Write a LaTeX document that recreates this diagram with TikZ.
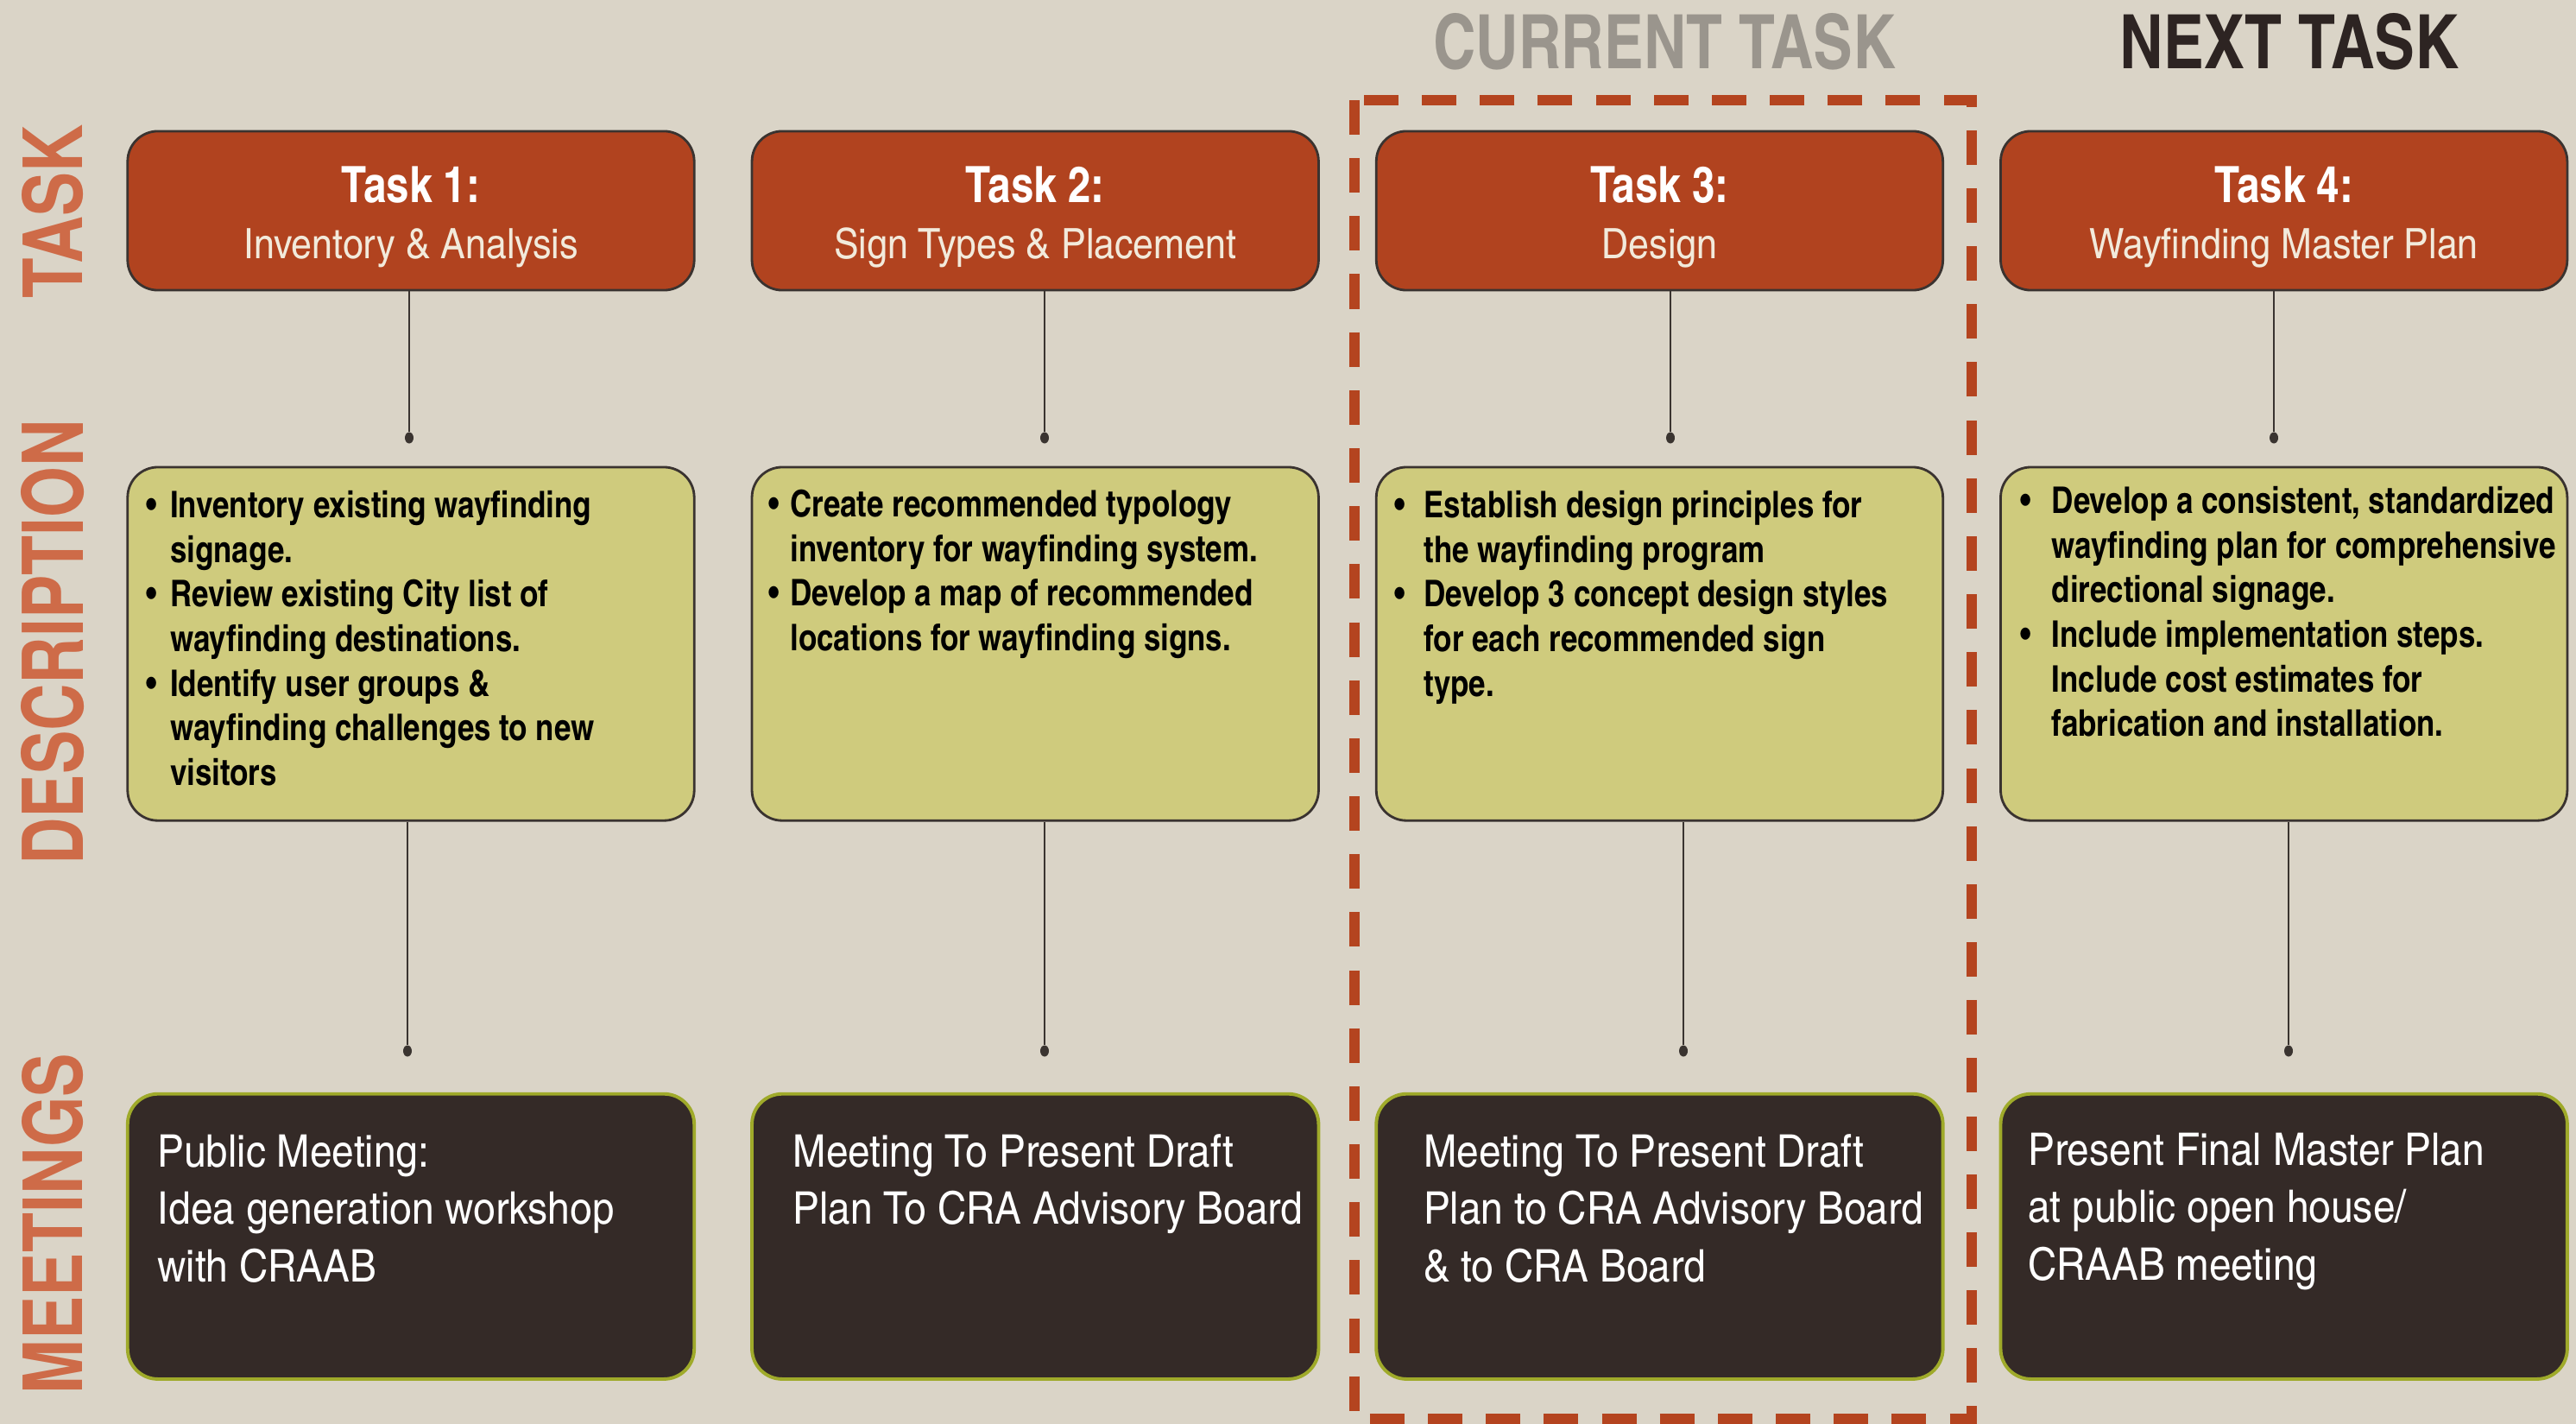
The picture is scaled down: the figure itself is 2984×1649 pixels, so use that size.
\documentclass[tikz,border=0pt]{standalone}
\usepackage{fontspec}
\usepackage{graphicx}
\setmainfont{texgyreheroscn}[Extension=.otf, UprightFont=*-regular, BoldFont=*-bold, ItalicFont=*-italic, BoldItalicFont=*-bolditalic]
\newfontfamily\sidefont{texgyreheros}[Extension=.otf, UprightFont=*-regular, BoldFont=*-bold]
\newfontfamily\widecn{texgyreheroscn}[Extension=.otf, UprightFont=*-regular, FakeStretch=1.08]
\usetikzlibrary{positioning, calc, shapes.geometric}

\definecolor{bgbeige}{HTML}{DAD4C7}
\definecolor{taskred}{HTML}{B1431F}
\definecolor{taskcream}{HTML}{F2EADB}
\definecolor{descolive}{HTML}{CFCB7D}
\definecolor{meetbrown}{HTML}{342A27}
\definecolor{meetline}{HTML}{9FAA2A}
\definecolor{boxline}{HTML}{3A3330}
\definecolor{wiregray}{HTML}{3A3430}
\definecolor{sideorange}{HTML}{CE6B48}
\definecolor{curgray}{HTML}{9A958D}
\definecolor{nextdark}{HTML}{2D2422}
\definecolor{framered}{HTML}{B4441F}

\newcommand{\bul}[1][0.28cm]{\makebox[#1][l]{\textbullet}}
\newcommand{\nob}[1][0.28cm]{\hspace*{#1}}
\newcommand{\subfont}{\widecn\fontsize{13.8}{18.6}\selectfont\color{taskcream}}
\newcommand{\tasktitle}[1]{\rule{0pt}{16pt}\textbf{#1}}

\begin{document}
\begin{tikzpicture}[x=0.01cm, y=-0.01cm, >=stealth,
		taskbox/.style={draw=boxline, line width=0.8pt, fill=taskred, rounded corners=0.35cm,
			minimum width=6.56cm, minimum height=1.84cm, inner sep=0, align=center, text=white,
			font={\fontsize{16.5}{18.6}\selectfont}},
		descbox/.style={draw=boxline, line width=0.8pt, fill=descolive, rounded corners=0.35cm,
			minimum width=6.56cm, minimum height=4.09cm, inner sep=0},
		meetbox/.style={draw=meetline, line width=1.1pt, fill=meetbrown, rounded corners=0.35cm,
			minimum width=6.56cm, minimum height=3.30cm, inner sep=0},
		desctxt/.style={anchor=north west, inner sep=0, align=left, text=black,
			font={\bfseries\fontsize{12.1}{14.7}\selectfont}},
		meettxt/.style={anchor=north west, inner sep=0, align=left, text=white,
			font={\widecn\fontsize{14.8}{18.8}\selectfont}},
		dot/.style={ellipse, fill=wiregray, inner sep=0, minimum width=0.1cm, minimum height=0.13cm},
		wire/.style={draw=wiregray, line width=0.6pt},
		sidelabel/.style={rotate=90, text=sideorange, inner sep=0},
		curframe/.style={draw=framered, line width=3.4pt, dash pattern=on 11.4pt off 7.7pt}]
	
	% Background
	\fill[bgbeige] (0,0) rectangle (2984,1649);
	\useasboundingbox (0,0) rectangle (2984,1649);
	
	% Row labels
	\node[sidelabel] (lbltask) at (61,245) {\resizebox{2.01cm}{0.70cm}{\sidefont\bfseries TASK}};
	\node[sidelabel] (lbldesc) at (61,744) {\resizebox{5.15cm}{0.72cm}{\sidefont\bfseries DESCRIPTION}};
	\node[sidelabel] (lblmeet) at (61,1417) {\resizebox{3.94cm}{0.70cm}{\sidefont\bfseries MEETINGS}};
	
	% Column headers
	\node[text=curgray, inner sep=0] (curhead) at (1928,48) {\resizebox{5.35cm}{0.64cm}{\bfseries CURRENT TASK}};
	\node[text=nextdark, inner sep=0] (nexthead) at (2652,48) {\resizebox{3.93cm}{0.64cm}{\bfseries NEXT TASK}};
	
	% Current task frame
	\draw[curframe] (1569,116) rectangle (2284,1643);
	
	% Task boxes
	\node[taskbox] (task1) at (476,244) {\tasktitle{Task 1:}\\{\subfont Inventory \& Analysis}};
	\node[taskbox, right=0.64cm of task1] (task2) {\tasktitle{Task 2:}\\{\subfont Sign Types \& Placement}};
	\node[taskbox, right=0.64cm of task2] (task3) {\tasktitle{Task 3:}\\{\subfont Design}};
	\node[taskbox, right=0.64cm of task3] (task4) {\tasktitle{Task 4:}\\{\subfont Wayfinding Master Plan}};
	
	% Description boxes
	\node[descbox, below=2.02cm of task1] (desc1) {};
	\node[descbox, below=2.02cm of task2] (desc2) {};
	\node[descbox, below=2.02cm of task3] (desc3) {};
	\node[descbox, below=2.02cm of task4] (desc4) {};
	
	\node[desctxt] (desc1txt) at ([shift={(22,23)}]desc1.north west)
	{\strut\bul Inventory existing wayfinding\\\nob signage.\\\bul Review existing City list of\\\nob wayfinding destinations.\\\bul Identify user groups \&\\\nob wayfinding challenges to new\\\nob visitors};
	\node[desctxt] (desc2txt) at ([shift={(20,22)}]desc2.north west)
	{\strut\bul[0.25cm]Create recommended typology\\\nob[0.25cm]inventory for wayfinding system.\\\bul[0.25cm]Develop a map of recommended\\\nob[0.25cm]locations for wayfinding signs.};
	\node[desctxt] (desc3txt) at ([shift={(22,23)}]desc3.north west)
	{\strut\bul[0.34cm]Establish design principles for\\\nob[0.34cm]the wayfinding program\\\bul[0.34cm]Develop 3 concept design styles\\\nob[0.34cm]for each recommended sign\\\nob[0.34cm]type.};
	\node[desctxt] (desc4txt) at ([shift={(24,18)}]desc4.north west)
	{\strut\bul[0.36cm]Develop a consistent, standardized\\\nob[0.36cm]wayfinding plan for comprehensive\\\nob[0.36cm]directional signage.\\\bul[0.36cm]Include implementation steps.\\\nob[0.36cm]Include cost estimates for\\\nob[0.36cm]fabrication and installation.};
	
	% Meeting boxes
	\node[meetbox, below=3.13cm of desc1] (meet1) {};
	\node[meetbox, below=3.13cm of desc2] (meet2) {};
	\node[meetbox, below=3.13cm of desc3] (meet3) {};
	\node[meetbox, below=3.13cm of desc4] (meet4) {};
	
	\node[meettxt] (meet1txt) at ([shift={(36,40)}]meet1.north west) {\strut Public Meeting:\\Idea generation workshop\\with CRAAB};
	\node[meettxt] (meet2txt) at ([shift={(49,40)}]meet2.north west) {\strut Meeting To Present Draft\\Plan To CRA Advisory Board};
	\node[meettxt] (meet3txt) at ([shift={(56,40)}]meet3.north west) {\strut Meeting To Present Draft\\Plan to CRA Advisory Board\\\& to CRA Board};
	\node[meettxt] (meet4txt) at ([shift={(33,38)}]meet4.north west) {\strut Present Final Master Plan\\at public open house/\\CRAAB meeting};
	
	% Connectors
	\foreach \i/\x in {1/474, 2/1210, 3/1935, 4/2634}{
		\node[dot] (tdot\i) at (\x,507) {};
		\draw[wire] (tdot\i |- task\i.south) -- (tdot\i);
	}
	\foreach \i/\x in {1/472, 2/1210, 3/1950, 4/2651}{
		\node[dot] (mdot\i) at (\x,1217) {};
		\draw[wire] (mdot\i |- desc\i.south) -- (mdot\i);
	}
	
\end{tikzpicture}
\end{document}
